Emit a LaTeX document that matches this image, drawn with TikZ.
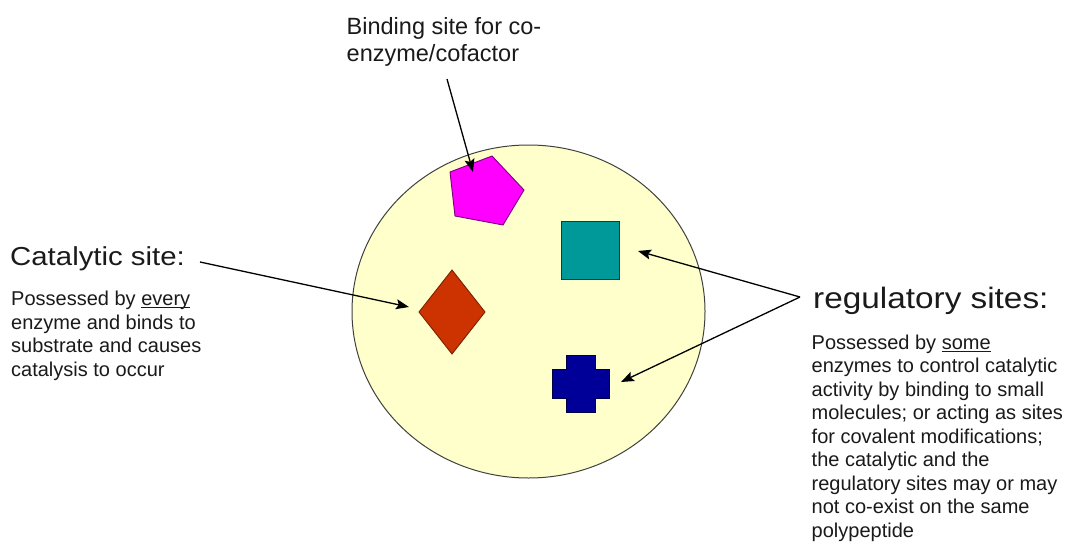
\documentclass[tikz,border=0pt]{standalone}
\usepackage{fontspec}
\setmainfont{Liberation Sans}
\newfontfamily\headfont[FakeStretch=1.13]{Liberation Sans}
\usetikzlibrary{arrows.meta}
\definecolor{cellfill}{HTML}{FFFFCC}
\definecolor{inkdark}{HTML}{1A1A1A}
\definecolor{pentafill}{HTML}{FF00FF}
\definecolor{pentaline}{HTML}{7A007A}
\definecolor{tealfill}{HTML}{009999}
\definecolor{tealline}{HTML}{004444}
\definecolor{rustfill}{HTML}{CC3300}
\definecolor{rustline}{HTML}{7A2000}
\definecolor{navyfill}{HTML}{000099}
\definecolor{navyline}{HTML}{000044}
% underline sitting just under the baseline
\newcommand{\ulword}[1]{\setbox0\hbox{#1}\rlap{\rule[-2.6pt]{\wd0}{1.1pt}}#1}
\begin{document}
\begin{tikzpicture}[x=1pt,y=-1pt,
  txt/.style={anchor=base west,align=left,inner sep=0pt,text=inkdark},
  bodytxt/.style={txt,font=\fontsize{20}{23.7}\selectfont},
  pointer/.style={draw=black,line width=1.3pt,-{Stealth[length=13pt,width=10pt,inset=2.5pt]}},
  site/.style={line width=0.9pt,line join=miter}]
\useasboundingbox (0,0) rectangle (1070,543);
\fill[white] (0,0) rectangle (1070,543);

% enzyme body
\filldraw[fill=cellfill,draw=black!75,line width=1pt]
  (528.5,311.5) ellipse [x radius=176.5pt,y radius=166.5pt];

% binding site (pentagon)
\filldraw[site,fill=pentafill,draw=pentaline]
  (492,156) -- (524,190) -- (503,225) -- (455,216) -- (450,172) -- cycle;
% regulatory site (square)
\filldraw[site,fill=tealfill,draw=tealline] (561,221) rectangle (619,279);
% catalytic site (diamond)
\filldraw[site,fill=rustfill,draw=rustline]
  (452,270) -- (485,312) -- (452,354) -- (419,312) -- cycle;
% regulatory site (cross)
\filldraw[site,fill=navyfill,draw=navyline]
  (566,355) -- (595,355) -- (595,369) -- (609,369) -- (609,398) -- (595,398)
  -- (595,412) -- (566,412) -- (566,398) -- (552,398) -- (552,369) -- (566,369) -- cycle;

% labels (multi-line nodes are placed by the baseline of their last line)
\node[txt,font=\fontsize{23.5}{28}\selectfont] (bindlabel) at (346.5,62)
  {Binding site for co-\\enzyme/cofactor};
\node[txt,font=\headfont\fontsize{26}{30}\selectfont] (cattitle) at (10,265) {Catalytic site:};
\node[bodytxt] (catbody) at (11,376.4)
  {Possessed by \ulword{every}\\enzyme and binds to\\substrate and causes\\catalysis to occur};
\node[txt,font=\headfont\fontsize{29.5}{34}\selectfont] (regtitle) at (813,308.5) {regulatory sites:};
\node[bodytxt,font=\fontsize{20}{23.5}\selectfont] (regbody) at (811.5,537)
  {Possessed by \ulword{some}\\enzymes to control catalytic\\activity by binding to small\\molecules; or acting as sites\\for covalent modifications;\\the catalytic and the\\regulatory sites may or may\\not co-exist on the same\\polypeptide};

% connector ends
\coordinate (bindfrom) at (447,79);
\coordinate (bindtip) at (473,172);
\coordinate (catfrom) at (200,262);
\coordinate (cattip) at (409,307);
\coordinate (regfrom) at (800,297);
\coordinate (squaretip) at (638,251);
\coordinate (crosstip) at (621,382);

\draw[pointer] (bindfrom) -- (bindtip);
\draw[pointer] (catfrom) -- (cattip);
\draw[pointer] (regfrom) -- (squaretip);
\draw[pointer] (regfrom) -- (crosstip);
\end{tikzpicture}
\end{document}
